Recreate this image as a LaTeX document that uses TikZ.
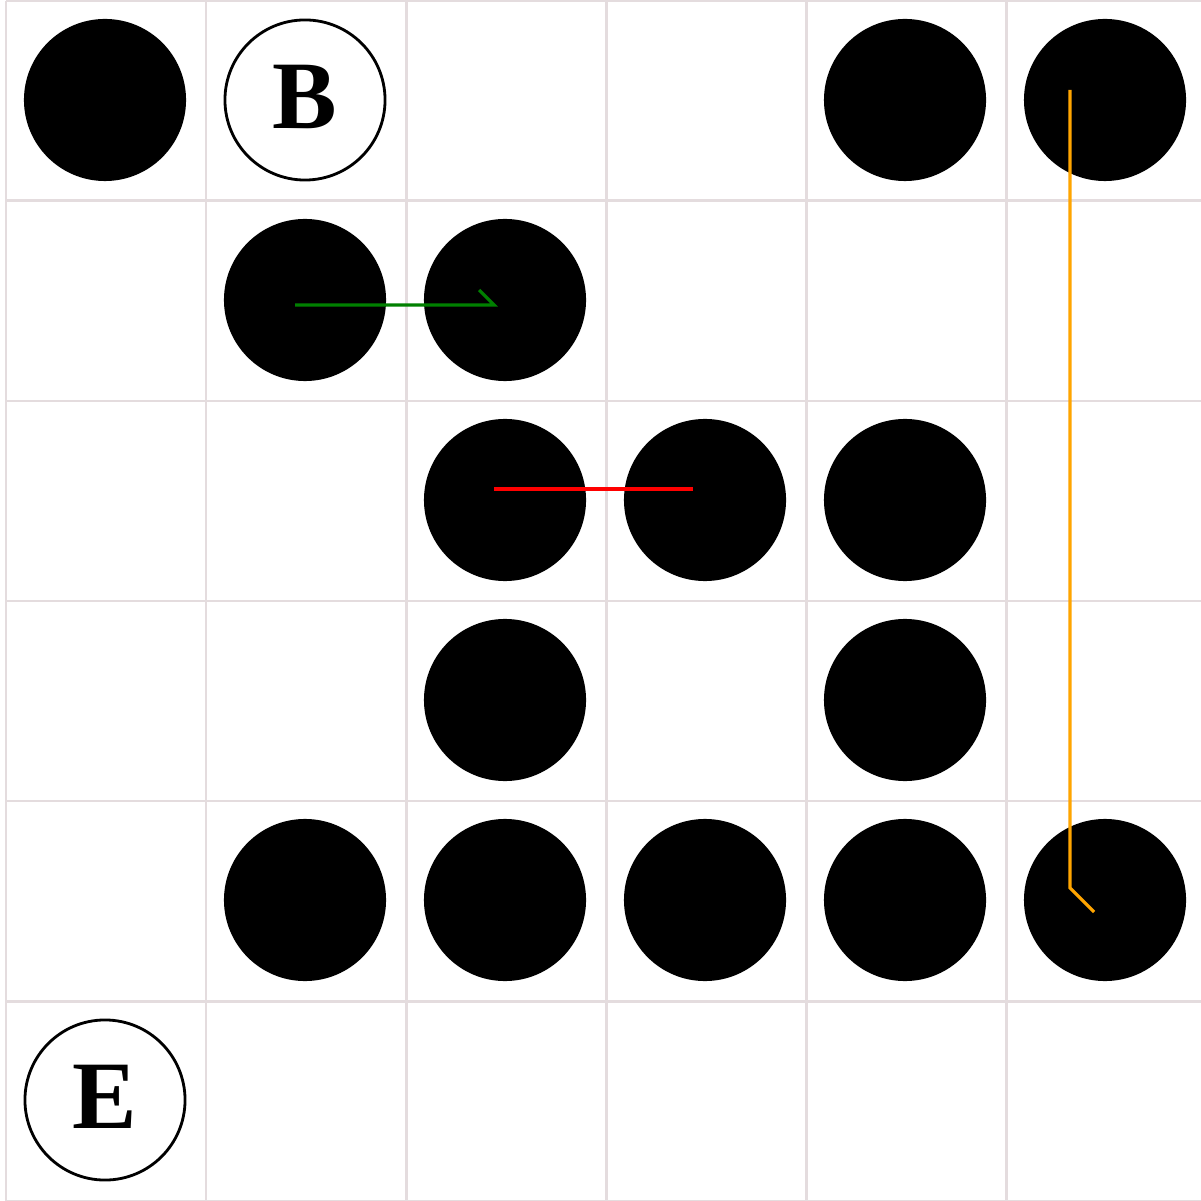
\documentclass[tikz,border=0pt]{standalone}
\usepackage{fontspec}
\newfontfamily\lserif{Liberation Serif}
\begin{document}
\begin{tikzpicture}[x=0.01cm,y=-0.01cm,
  gridline/.style={draw=gridc,line width=0.85pt},
  stone/.style={circle,fill=black,minimum size=1.62cm,inner sep=0pt},
  labelstone/.style={circle,draw=black,fill=white,line width=0.8pt,minimum size=1.6cm,inner sep=0pt,text depth=0.07cm,font=\lserif\bfseries\fontsize{27.5}{30}\selectfont},
  pathline/.style={line width=0.9pt}]
\definecolor{gridc}{RGB}{228,220,222}
\definecolor{orangec}{RGB}{255,165,0}
\definecolor{greenc}{RGB}{0,128,0}
\useasboundingbox (0,0) rectangle (1201,1201);
\fill[white] (0,0) rectangle (1201,1201);
% grid
\foreach \i in {0,...,6} {
  \draw[gridline] (6+200*\i,1) -- (6+200*\i,1201);
  \draw[gridline] (6,1+200*\i) -- (1206,1+200*\i);
}
% stones
\foreach \c/\r in {0/0,4/0,5/0,1/1,2/1,2/2,3/2,4/2,2/3,4/3,1/4,2/4,3/4,4/4,5/4} {
  \node[stone] (s\c\r) at (105+200*\c,100+200*\r) {};
}
\node[labelstone] (B) at (305,100) {B};
\node[labelstone] (E) at (105,1100) {E};
% paths
\coordinate (g1) at (295,305);
\coordinate (g2) at (494,305);
\coordinate (g3) at (479,290);
\draw[pathline,greenc] (g1) -- (g2) -- (g3);
\coordinate (r1) at (494,489);
\coordinate (r2) at (693,489);
\draw[pathline,red] (r1) -- (r2);
\coordinate (o1) at (1070,90);
\coordinate (o2) at (1070,888);
\coordinate (o3) at (1094,912);
\draw[pathline,orangec] (o1) -- (o2) -- (o3);
\end{tikzpicture}
\end{document}
